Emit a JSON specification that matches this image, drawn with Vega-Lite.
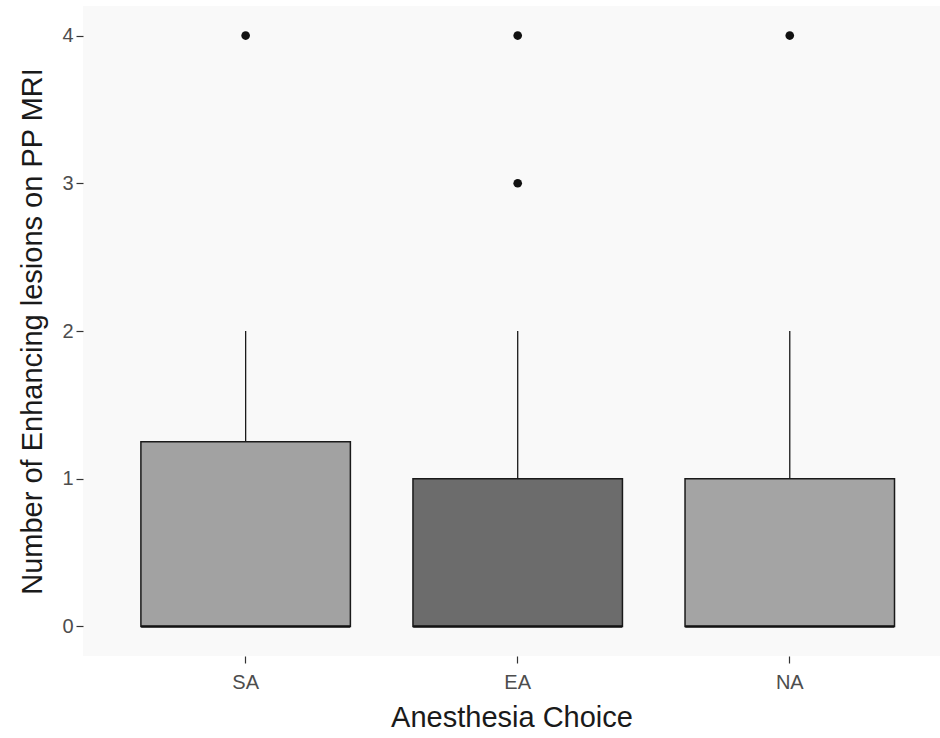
{
  "$schema": "https://vega.github.io/schema/vega-lite/v6.json",
  "autosize": "none",
  "width": 857,
  "height": 650,
  "padding": {"left": 83, "top": 6, "right": 0, "bottom": 82},
  "background": "#ffffff",
  "config": {
    "view": {"fill": "#f9f9f9", "stroke": null},
    "font": "Liberation Sans",
    "axis": {
      "grid": false,
      "domain": false,
      "tickColor": "#333333",
      "tickSize": 7,
      "tickWidth": 1.2,
      "labelColor": "#4d4d4d",
      "labelFontSize": 20,
      "titleFontSize": 29,
      "titleFontWeight": "normal",
      "titleColor": "#1a1a1a"
    }
  },
  "datasets": {
    "boxes": [
      {"group": "SA", "lower": 0, "q1": 0, "median": 0, "q3": 1.25, "upper": 2},
      {"group": "EA", "lower": 0, "q1": 0, "median": 0, "q3": 1, "upper": 2},
      {"group": "NA", "lower": 0, "q1": 0, "median": 0, "q3": 1, "upper": 2}
    ],
    "outliers": [
      {"group": "SA", "value": 4},
      {"group": "EA", "value": 4},
      {"group": "EA", "value": 3},
      {"group": "NA", "value": 4}
    ]
  },
  "layer": [
    {
      "data": {"name": "boxes"},
      "mark": {"type": "rule", "color": "#1a1a1a", "strokeWidth": 1.3},
      "encoding": {
        "x": {"field": "group", "type": "nominal"},
        "y": {"field": "q3", "type": "quantitative"},
        "y2": {"field": "upper"}
      }
    },
    {
      "data": {"name": "boxes"},
      "mark": {"type": "bar", "stroke": "#1a1a1a", "strokeWidth": 1.5},
      "encoding": {
        "x": {"field": "group", "type": "nominal"},
        "y": {"field": "q1", "type": "quantitative"},
        "y2": {"field": "q3"},
        "fill": {
          "field": "group",
          "type": "nominal",
          "scale": {"domain": ["SA", "EA", "NA"], "range": ["#a2a2a2", "#6c6c6c", "#a4a4a4"]},
          "legend": null
        }
      }
    },
    {
      "data": {"name": "boxes"},
      "mark": {"type": "tick", "color": "#111111", "thickness": 3, "size": 209},
      "encoding": {
        "x": {"field": "group", "type": "nominal"},
        "y": {"field": "median", "type": "quantitative"}
      }
    },
    {
      "data": {"name": "outliers"},
      "mark": {"type": "point", "filled": true, "color": "#111111", "size": 75, "opacity": 1},
      "encoding": {
        "x": {"field": "group", "type": "nominal"},
        "y": {"field": "value", "type": "quantitative"}
      }
    }
  ],
  "encoding": {
    "x": {
      "field": "group",
      "type": "nominal",
      "sort": ["SA", "EA", "NA"],
      "scale": {"domain": ["SA", "EA", "NA"], "paddingInner": 0.23, "paddingOuter": 0.19, "align": 0.56},
      "axis": {"title": "Anesthesia Choice", "labelAngle": 0, "labelPadding": 9, "titlePadding": 11}
    },
    "y": {
      "type": "quantitative",
      "scale": {"domain": [-0.2, 4.2], "nice": false, "zero": false},
      "axis": {"title": "Number of Enhancing lesions on PP MRI", "values": [0, 1, 2, 3, 4], "labelPadding": 3, "titlePadding": 14}
    }
  }
}
